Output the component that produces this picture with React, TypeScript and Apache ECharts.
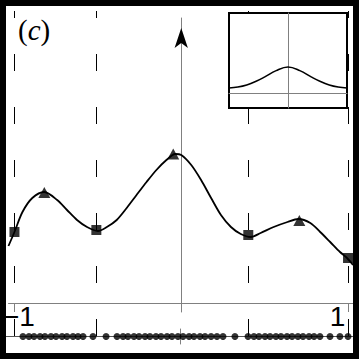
import React, { useEffect, useRef } from "react";
import * as echarts from "echarts";

// Main curve (x in [-1,1], y arbitrary units with 0 at the horizontal axis)
const CURVE_X = [-1.036, -1.0, -0.952, -0.893, -0.821, -0.744, -0.685, -0.625, -0.565, -0.5, -0.446, -0.387, -0.327, -0.268, -0.208, -0.149, -0.089, -0.036, 0, 0.06, 0.119, 0.179, 0.238, 0.298, 0.357, 0.417, 0.476, 0.554, 0.637, 0.702, 0.774, 0.833, 0.893, 0.952, 0.994, 1.03];
const CURVE_Y = [0.57, 0.71, 0.91, 1.05, 1.11, 1.03, 0.93, 0.83, 0.76, 0.72, 0.76, 0.83, 0.95, 1.08, 1.21, 1.33, 1.43, 1.49, 1.48, 1.38, 1.23, 1.05, 0.88, 0.76, 0.69, 0.66, 0.7, 0.76, 0.81, 0.84, 0.8, 0.71, 0.61, 0.51, 0.45, 0.38];

const SQUARE_X = [-1, -0.509, 0.402, 1];
const SQUARE_Y = [0.71, 0.73, 0.68, 0.45];
const TRI_X = [-0.821, -0.048, 0.708];
const TRI_Y = [1.105, 1.49, 0.825];

const NODE_X = [-1, -0.509, 0.402, 1];

const SAMPLE_X = [-0.935, -0.899, -0.869, -0.833, -0.804, -0.768, -0.738, -0.702, -0.673, -0.637, -0.607, -0.577, -0.518, -0.44, -0.375, -0.339, -0.31, -0.274, -0.244, -0.208, -0.179, -0.143, -0.113, -0.077, -0.048, -0.012, 0.018, 0.054, 0.083, 0.119, 0.149, 0.185, 0.22, 0.256, 0.327, 0.405, 0.44, 0.47, 0.506, 0.536, 0.571, 0.601, 0.637, 0.667, 0.702, 0.732, 0.768, 0.798, 0.833, 0.893, 0.952, 1.0];

const INSET_X = [-1, -0.85, -0.7, -0.55, -0.4, -0.2, 0, 0.2, 0.4, 0.55, 0.7, 0.85, 1];
const INSET_Y = [0.19, 0.23, 0.31, 0.44, 0.61, 0.86, 1.0, 0.86, 0.61, 0.44, 0.31, 0.23, 0.19];

const TICK_VALUES = [-1, 1];
const TICK_LABELS = ["\u22121", "1"];
const PANEL_LABEL = "c";

const X_MIN = -1.0357;
const X_MAX = 1.0298;
const Y_MIN = -0.09;
const Y_MAX = 2.85;
const INSET_Y_MIN = -0.577;
const INSET_Y_MAX = 3.077;

const AXIS = "#808080";

export default function App() {
  const ref = useRef<HTMLDivElement>(null);
  useEffect(() => {
    if (!ref.current) return;
    const chart = echarts.init(ref.current, null, { renderer: "svg" });
    const hideAll = {
      axisLabel: { show: false },
      axisTick: { show: false },
      splitLine: { show: false },
    };
    chart.setOption({
      animation: false,
      backgroundColor: "#fff",
      grid: [
        { left: 6, right: 7, top: 18, bottom: 48 },
        { left: 6, right: 7, top: 329, height: 15 },
        {
          left: 229,
          top: 13,
          width: 118,
          height: 95,
          show: true,
          borderColor: "#000",
          borderWidth: 2,
          backgroundColor: "#fff",
        },
      ],
      xAxis: [
        {
          gridIndex: 0,
          type: "value",
          min: X_MIN,
          max: X_MAX,
          position: "bottom",
          axisLine: { show: true, onZero: true, lineStyle: { color: AXIS, width: 1 } },
          axisTick: { show: true, customValues: TICK_VALUES, length: 5, lineStyle: { color: AXIS } },
          axisLabel: {
            show: true,
            customValues: TICK_VALUES,
            margin: -10,
            formatter: (v: number) => (v < 0 ? `{l|${TICK_LABELS[0]}}` : `{r|${TICK_LABELS[1]}}`),
            rich: {
              l: { fontFamily: "Liberation Sans", fontSize: 28, color: "#000", padding: [0, 0, 0, 9] },
              r: { fontFamily: "Liberation Sans", fontSize: 28, color: "#000", padding: [0, 21, 0, 0] },
            },
          },
          splitLine: { show: false },
        },
        {
          gridIndex: 0,
          type: "value",
          min: X_MIN,
          max: X_MAX,
          position: "bottom",
          axisLine: { show: false, onZero: true },
          axisTick: { show: true, inside: true, length: 8, customValues: TICK_VALUES, lineStyle: { color: AXIS } },
          axisLabel: { show: false },
          splitLine: { show: false },
        },
        {
          gridIndex: 1,
          type: "value",
          min: X_MIN,
          max: X_MAX,
          axisLine: { show: true, onZero: true, lineStyle: { color: "#555", width: 1 } },
          ...hideAll,
        },
        {
          gridIndex: 2,
          type: "value",
          min: -1,
          max: 1,
          axisLine: { show: true, onZero: true, lineStyle: { color: AXIS, width: 1 } },
          ...hideAll,
        },
      ],
      yAxis: [
        {
          gridIndex: 0,
          type: "value",
          min: Y_MIN,
          max: Y_MAX,
          axisLine: { show: true, onZero: true, lineStyle: { color: AXIS, width: 1 } },
          ...hideAll,
        },
        {
          gridIndex: 1,
          type: "value",
          min: -1,
          max: 1,
          axisLine: { show: true, onZero: true, lineStyle: { color: AXIS, width: 1 } },
          ...hideAll,
        },
        {
          gridIndex: 2,
          type: "value",
          min: INSET_Y_MIN,
          max: INSET_Y_MAX,
          axisLine: { show: true, onZero: true, lineStyle: { color: AXIS, width: 1 } },
          ...hideAll,
        },
      ],
      series: [
        {
          type: "custom",
          xAxisIndex: 0,
          yAxisIndex: 0,
          z: -1,
          clip: false,
          silent: true,
          data: NODE_X.map((x) => [x, 0]),
          renderItem: (params: any, api: any) => {
            const px = Math.round(api.coord([api.value(0), 0])[0]) + 0.5;
            return {
              type: "line",
              shape: { x1: px, y1: 11, x2: px, y2: 337 },
              style: { stroke: "#000", lineWidth: 1, lineDash: [17, 36], lineDashOffset: 10 },
            };
          },
        },
        {
          type: "line",
          xAxisIndex: 0,
          yAxisIndex: 0,
          data: CURVE_X.map((x, i) => [x, CURVE_Y[i]]),
          showSymbol: false,
          smooth: 0.3,
          clip: false,
          z: 3,
          lineStyle: { color: "#000", width: 1.8 },
          markPoint: {
            silent: true,
            label: { show: false },
            data: [
              {
                coord: [0, Y_MAX],
                symbol: "arrow",
                symbolSize: [10, 20],
                symbolOffset: [0, 10],
                itemStyle: { color: "#000" },
              },
            ],
          },
        },
        {
          type: "scatter",
          xAxisIndex: 0,
          yAxisIndex: 0,
          symbol: "rect",
          symbolSize: 10,
          z: 4,
          itemStyle: { color: "#000" },
          data: SQUARE_X.map((x, i) => [x, SQUARE_Y[i]]),
        },
        {
          type: "scatter",
          xAxisIndex: 0,
          yAxisIndex: 0,
          symbol: "triangle",
          symbolSize: [12, 11],
          z: 4,
          itemStyle: { color: "#000" },
          data: TRI_X.map((x, i) => [x, TRI_Y[i]]),
        },
        {
          type: "scatter",
          xAxisIndex: 2,
          yAxisIndex: 1,
          symbol: "circle",
          symbolSize: 7,
          itemStyle: { color: "#000" },
          data: SAMPLE_X.map((x) => [x, 0]),
        },
        {
          type: "line",
          xAxisIndex: 3,
          yAxisIndex: 2,
          data: INSET_X.map((x, i) => [x, INSET_Y[i]]),
          showSymbol: false,
          smooth: 0.4,
          lineStyle: { color: "#000", width: 1.6 },
        },
      ],
      graphic: [
        {
          type: "text",
          left: 18,
          top: 15,
          z: 100,
          style: {
            text: `{p|(}{c|${PANEL_LABEL}}{p|)}`,
            rich: {
              p: { fontFamily: "Liberation Serif", fontSize: 29, fill: "#000" },
              c: { fontFamily: "Liberation Serif", fontSize: 29, fontStyle: "italic", fill: "#000" },
            },
          },
        },
        {
          type: "rect",
          z: 100,
          silent: true,
          shape: { x: 3, y: 3, width: 353, height: 353 },
          style: { fill: "none", stroke: "#000", lineWidth: 6 },
        },
      ],
    });
    return () => chart.dispose();
  }, []);
  return (
    <div
      ref={ref}
      style={{ position: "absolute", left: 0, top: 0, width: 360, height: 360 }}
    />
  );
}
